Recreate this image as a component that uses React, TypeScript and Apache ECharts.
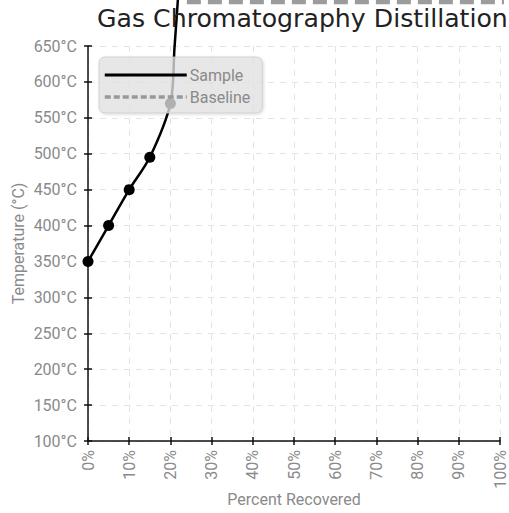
import React, { useEffect, useRef } from "react";
import * as echarts from "echarts";

const xTicks = [0, 10, 20, 30, 40, 50, 60, 70, 80, 90, 100];
const sampleData: [number, number][] = [
  [0, 350], [5, 400], [10, 450], [15, 495], [20, 570], [21, 648], [22, 730], [23, 820],
];
const baselineData: [number, number][] = [
  [24, 713], [40, 713], [60, 713], [80, 713], [100, 713], [104, 713],
];

const FONT = "Roboto, 'Liberation Sans', sans-serif";
const LABEL = "#8a8a8a";

export default function App() {
  const ref = useRef<HTMLDivElement>(null);
  useEffect(() => {
    const chart = echarts.init(ref.current!, undefined, { renderer: "svg" });
    const tickStyle = { color: "#111", width: 1.5 };
    chart.setOption({
      animation: false,
      backgroundColor: "#fff",
      title: {
        text: "Gas Chromatography Distillation",
        left: 92,
        top: 1,
        textStyle: { fontFamily: "'DejaVu Sans', sans-serif", fontSize: 25.2, fontWeight: "normal", color: "#222" },
      },
      legend: {
        orient: "vertical",
        left: 99,
        top: 57,
        padding: [10, 12, 8, 4],
        itemWidth: 82,
        itemHeight: 14,
        itemGap: 6,
        backgroundColor: "rgba(228,228,228,0.75)",
        borderColor: "rgba(200,200,200,0.8)",
        borderWidth: 1,
        borderRadius: 6,
        shadowColor: "rgba(0,0,0,0.18)",
        shadowBlur: 3,
        shadowOffsetX: 1,
        shadowOffsetY: 1,
        textStyle: { fontFamily: FONT, fontSize: 16, color: LABEL, padding: [0, 0, 0, -2] },
        data: [
          { name: "Sample", itemStyle: { opacity: 0 }, lineStyle: { color: "#000", width: 3, type: "solid" } },
          { name: "Baseline", itemStyle: { opacity: 0 }, lineStyle: { color: "#999", width: 3.5, type: [6, 3] } },
        ],
      },
      grid: { left: 88, right: 9, top: 46, bottom: 72, containLabel: false, outerBoundsMode: "none" },
      xAxis: [
        {
          type: "value",
          min: 0,
          max: 100,
          interval: 10,
          name: "Percent Recovered",
          nameLocation: "middle",
          nameGap: 50,
          nameMoveOverlap: false,
          nameTextStyle: { fontFamily: FONT, fontSize: 16, color: LABEL },
          axisLine: { lineStyle: { color: "#111", width: 1.5 } },
          axisTick: { show: true, length: 4, lineStyle: tickStyle },
          axisLabel: {
            rotate: 90,
            margin: 9,
            fontFamily: FONT,
            fontSize: 16,
            color: LABEL,
            formatter: (v: number) => v + "%",
          },
          splitLine: { show: true, lineStyle: { color: "#e4e4e4", type: [6, 6] } },
        },
        {
          type: "value",
          min: 0,
          max: 100,
          interval: 10,
          position: "bottom",
          axisLine: { show: false },
          axisTick: { show: true, inside: true, length: 4, lineStyle: tickStyle },
          axisLabel: { show: false },
          splitLine: { show: false },
        },
      ],
      yAxis: [
        {
          type: "value",
          min: 100,
          max: 650,
          interval: 50,
          name: "Temperature (°C)",
          nameLocation: "middle",
          nameGap: 62,
          nameMoveOverlap: false,
          nameTextStyle: { fontFamily: FONT, fontSize: 16, color: LABEL },
          axisLine: { show: true, lineStyle: { color: "#111", width: 1.5 } },
          axisTick: { show: true, length: 4, lineStyle: tickStyle },
          axisLabel: {
            margin: 11,
            fontFamily: FONT,
            fontSize: 16,
            color: LABEL,
            formatter: (v: number) => v + "°C",
          },
          splitLine: { show: true, lineStyle: { color: "#e4e4e4", type: [6, 6] } },
        },
        {
          type: "value",
          min: 100,
          max: 650,
          interval: 50,
          position: "left",
          axisLine: { show: false },
          axisTick: { show: true, inside: true, length: 4, lineStyle: tickStyle },
          axisLabel: { show: false },
          splitLine: { show: false },
        },
      ],
      series: [
        {
          name: "Sample",
          type: "line",
          clip: false,
          data: sampleData,
          smooth: 0.3,
          symbol: "circle",
          symbolSize: (_v: any, p: any) => (p.dataIndex < 5 ? 11 : 0),
          itemStyle: { color: "#000" },
          lineStyle: { color: "#000", width: 2.5 },
          z: 2,
        },
        {
          name: "Baseline",
          type: "line",
          clip: false,
          data: baselineData,
          showSymbol: false,
          symbol: "circle",
          itemStyle: { color: "#999" },
          lineStyle: { color: "#9c9c9c", width: 7, type: [14, 7] },
          z: 2,
        },
      ],
    });
    return () => chart.dispose();
  }, []);
  return <div ref={ref} style={{ width: 509, height: 513, position: "absolute", left: 0, top: 0 }} />;
}
